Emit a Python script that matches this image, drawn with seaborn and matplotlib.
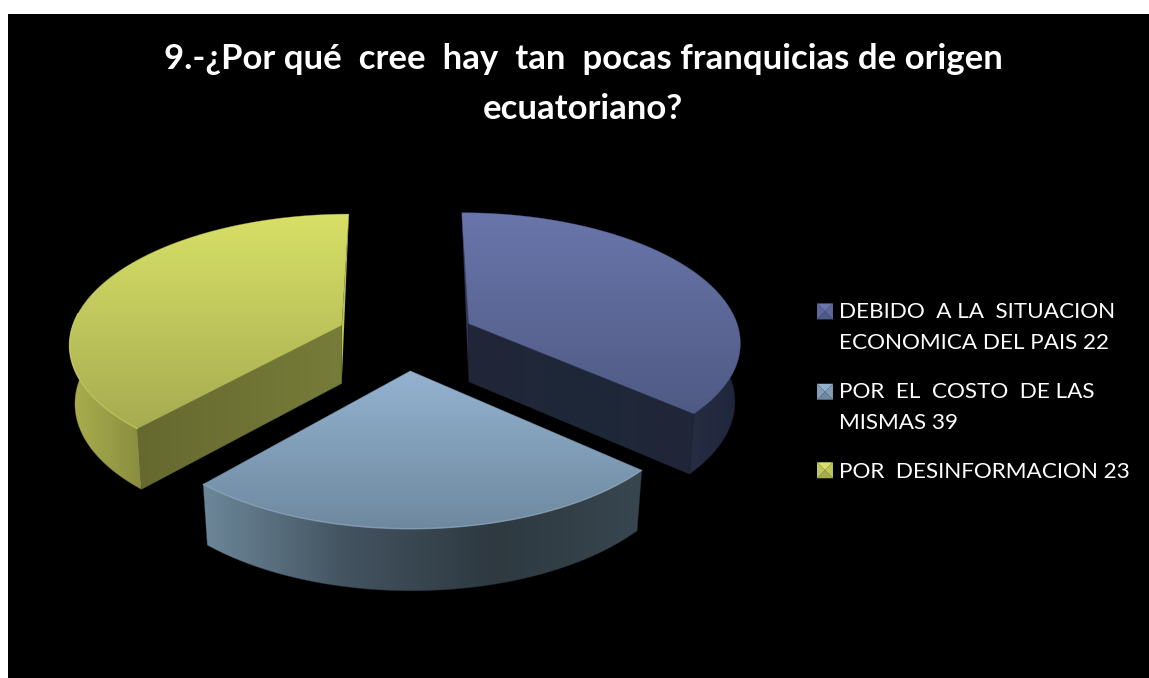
import numpy as np
import matplotlib
matplotlib.use("Agg")
import matplotlib.pyplot as plt
from matplotlib.legend_handler import HandlerBase
from matplotlib.patches import Patch, Polygon
import seaborn as sns

# Survey answers as printed in the legend
categories = [
    "DEBIDO  A LA  SITUACION\nECONOMICA DEL PAIS",
    "POR  EL  COSTO  DE LAS\nMISMAS",
    "POR  DESINFORMACION",
]
counts = [22, 39, 23]

# Shares of the circle given to each slice (percent); the slices are sized
# independently of the counts quoted in the legend text
slice_shares = [36.5, 25.1, 38.4]

title_lines = ["9.-¿Por qué  cree  hay  tan  pocas franquicias de origen", "ecuatoriano?"]

top_colors = [["#6A76AB", "#4F5A84"], ["#94B2D0", "#6E899F"], ["#D8E067", "#A6AC50"]]
wall_colors = [["#262C42", "#20263A"], ["#6C8799", "#42525F", "#2E3940", "#38464F"], ["#ABB04F", "#8A8D3E"]]
face_colors = [["#212639", "#1E2838", "#212639"], None, ["#65692F", "#777C39"]]
strip_colors = ["#2E3552", None, "#BCC157"]
rim_colors = [None, "#A8C4DC", "#DDE56C"]

sns.set_theme(style="white")
plt.rcParams["font.family"] = ["Lato", "DejaVu Sans"]

fig = plt.figure(figsize=(11.49, 6.78), dpi=100, facecolor="white")
left, top = 8, 14
ax = fig.add_axes([left / 1149, 0, (1149 - left) / 1149, (678 - top) / 678], facecolor="black")

# Perspective pie model
CX, CY = 406.0, 337.0
RADIUS, TILT, PERSP = 272.0, 128.3, 0.1275
EXPLODE = 0.256
DEPTH, SHRINK_X, GROW_Y = 58.0, 0.98, 1.025

layer = [2.0]


def next_layer():
    layer[0] += 0.1
    return layer[0]


def project(u, v):
    s = 1.0 / (1.0 + PERSP * v)
    return CX + RADIUS * u * s, CY - TILT * v * s


def gradient(points, stops, vertical):
    """Fill a polygon with a linear gradient blended from the colour stops."""
    pts = np.asarray(points)
    ramp = np.array(sns.blend_palette(stops, 256))
    ramp = ramp[:, None, :3] if vertical else ramp[None, :, :3]
    x0, y0 = pts.min(axis=0)
    x1, y1 = pts.max(axis=0)
    z = next_layer()
    im = ax.imshow(ramp, extent=(x0, x1, y1, y0), origin="upper", aspect="auto",
                   interpolation="bilinear", zorder=z)
    im.set_clip_path(Polygon(pts, closed=True, transform=ax.transData))
    # Soften the hard clip edge with a faint outline under the next layer
    ax.fill(pts[:, 0], pts[:, 1], facecolor="none", edgecolor=stops[len(stops) // 2],
            lw=0.5, alpha=0.5, zorder=z + 0.01)


def lower(points, apex):
    """Bottom-surface counterpart of points on the top surface."""
    pts = np.asarray(points, dtype=float)
    return np.column_stack([apex[0] + (pts[:, 0] - apex[0]) * SHRINK_X,
                            apex[1] + (pts[:, 1] - apex[1]) * GROW_Y + DEPTH])


sweeps = np.radians(np.array(slice_shares) / sum(slice_shares) * 360)
starts = np.concatenate([[0], np.cumsum(sweeps)[:-1]])

for i, (a0, sweep) in enumerate(zip(starts, sweeps)):
    mid = a0 + sweep / 2
    ou, ov = EXPLODE * np.sin(mid), EXPLODE * np.cos(mid)
    theta = np.linspace(a0, a0 + sweep, 240)
    rim = np.column_stack(project(ou + np.sin(theta), ov + np.cos(theta)))
    apex = np.array(project(ou, ov))
    apex_low = lower([apex], apex)[0]

    # Thin sliver of the rear cut face
    if strip_colors[i]:
        edge = rim[0] if i == 0 else rim[-1]
        ax.add_patch(Polygon([edge, apex, apex_low], closed=True, facecolor=strip_colors[i],
                             edgecolor="none", zorder=next_layer()))

    # Curved outer wall, front half only
    front = np.cos(theta) < 0.1
    if front.any():
        arc = rim[front]
        gradient(np.vstack([arc, lower(arc, apex)[::-1]]), wall_colors[i], vertical=False)

    # Front-facing cut face
    if face_colors[i]:
        corner = rim[-1] if i == 0 else rim[0]
        quad = [apex, corner, *lower([corner], apex), apex_low]
        gradient(quad, face_colors[i], vertical=False)

    # Top surface
    gradient(np.vstack([[apex], rim]), top_colors[i], vertical=True)

    # Light bevel along the front of the rim
    if rim_colors[i] and front.any():
        arc = rim[front]
        ax.plot(arc[:, 0], arc[:, 1], color=rim_colors[i], lw=1.0, alpha=0.5, zorder=next_layer())

ax.set_xlim(left, 1149)
ax.set_ylim(678, top)
ax.set_xticks([])
ax.set_yticks([])
sns.despine(ax=ax, left=True, bottom=True)

for text, y in zip(title_lines, [59, 109]):
    ax.text(583, y, text, color="white", fontsize=25, fontweight="bold", ha="center", va="center")


class BevelHandler(HandlerBase):
    """Small square key with four shaded bevel triangles."""

    def __init__(self, stops, lift):
        super().__init__()
        self.stops, self.lift = stops, lift

    def create_artists(self, legend, orig_handle, xdescent, ydescent, width, height, fontsize, trans):
        size = 11.5
        x0 = width - size
        y0 = (height - size) / 2 + self.lift
        x1, y1 = x0 + size, y0 + size
        cxm, cym = (x0 + x1) / 2, (y0 + y1) / 2
        hi, lo = self.stops
        mid = sns.blend_palette([hi, lo], 3)[1]
        tris = [([(x0, y1), (x1, y1), (cxm, cym)], hi),
                ([(x0, y0), (x1, y0), (cxm, cym)], lo),
                ([(x0, y0), (x0, y1), (cxm, cym)], mid),
                ([(x1, y0), (x1, y1), (cxm, cym)], mid)]
        return [Polygon(p, closed=True, facecolor=c, edgecolor="none", transform=trans)
                for p, c in tris]


labels = [f"{c} {n}" for c, n in zip(categories, counts)]
handles = [Patch(label=l) for l in labels]
hmap = {h: BevelHandler(top_colors[i], 11.5 if "\n" in labels[i] else 0) for i, h in enumerate(handles)}
leg = ax.legend(handles=handles, handler_map=hmap, loc="upper left", frameon=False,
                bbox_to_anchor=(817, 301.5), bbox_transform=ax.transData,
                borderaxespad=0, borderpad=0, fontsize=16.2, labelcolor="white",
                handlelength=0.71, handletextpad=0.27, labelspacing=1.28, alignment="left")
for t in leg.get_texts():
    t.set_linespacing(1.72)

fig.savefig("out.png", dpi=100, facecolor="white")
